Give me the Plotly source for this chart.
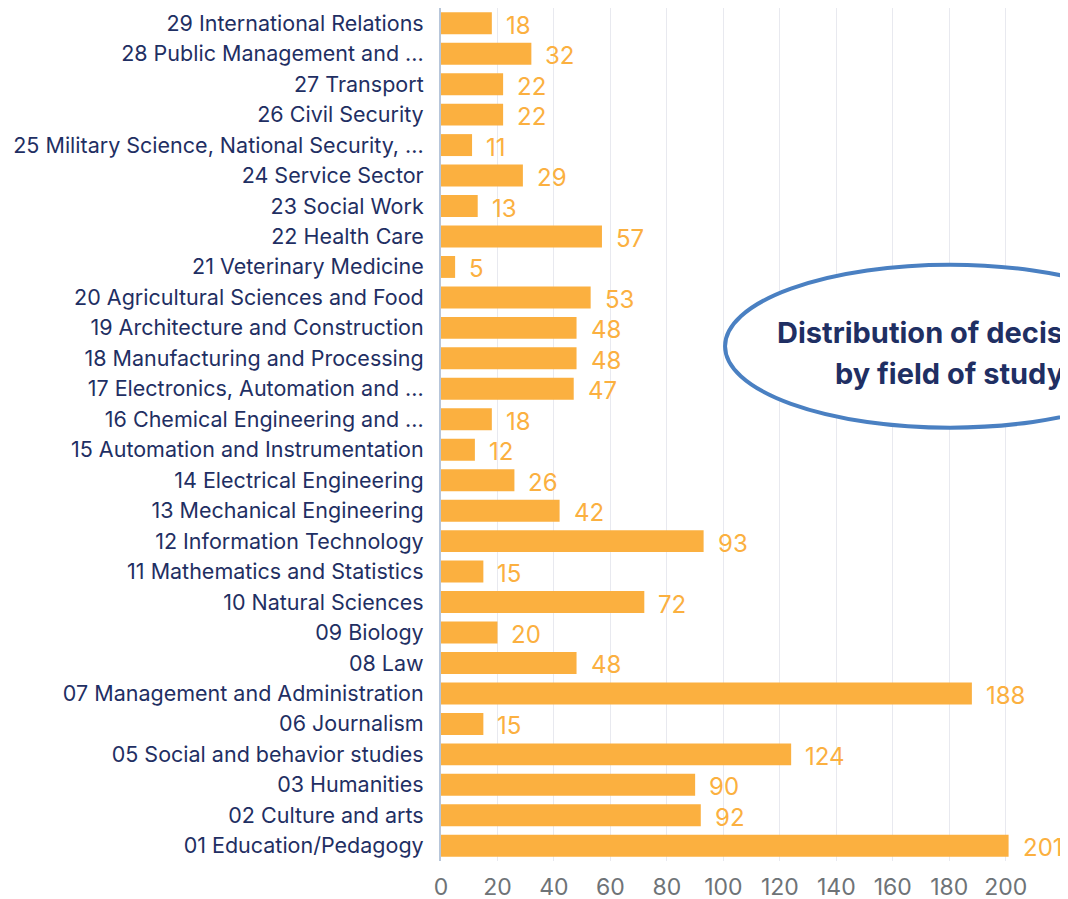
import plotly.graph_objects as go

categories = [
    "01 Education/Pedagogy", "02 Culture and arts", "03 Humanities",
    "05 Social and behavior studies", "06 Journalism",
    "07 Management and Administration", "08 Law", "09 Biology",
    "10 Natural Sciences", "11 Mathematics and Statistics",
    "12 Information Technology", "13 Mechanical Engineering",
    "14 Electrical Engineering", "15 Automation and Instrumentation",
    "16 Chemical Engineering and ...", "17 Electronics, Automation and ...",
    "18 Manufacturing and Processing", "19 Architecture and Construction",
    "20 Agricultural Sciences and Food", "21 Veterinary Medicine",
    "22 Health Care", "23 Social Work", "24 Service Sector",
    "25 Military Science, National Security, ...", "26 Civil Security",
    "27 Transport", "28 Public Management and ...", "29 International Relations",
]
values = [201, 92, 90, 124, 15, 188, 48, 20, 72, 15, 93, 42, 26, 12, 18, 47,
          48, 48, 53, 5, 57, 13, 29, 11, 22, 22, 32, 18]
x_ticks = list(range(0, 201, 20))
title_lines = ["Distribution of decisions", "by field of study"]

FONT = "Inter"
BAR = "#FBB040"
NAVY = "#1F2F63"

fig = go.Figure(go.Bar(
    x=values, y=categories, orientation="h",
    marker=dict(color=BAR, line=dict(width=0)), width=0.72,
    hoverinfo="x+y",
))

annotations = [
    dict(x=v, y=c, xref="x", yref="y", text=str(v), showarrow=False,
         xanchor="left", xshift=12, yshift=-2,
         font=dict(family=FONT, size=24, color=BAR))
    for c, v in zip(categories, values)
]
for line, ypos in zip(title_lines, [0.619, 0.571]):
    annotations.append(dict(
        x=0.858, y=ypos, xref="paper", yref="paper", text=f"<b>{line}</b>",
        showarrow=False, xanchor="center", yanchor="middle", align="center",
        font=dict(family=FONT, size=29, color=NAVY),
    ))

fig.update_layout(
    width=1068, height=899,
    margin=dict(l=433, r=42, t=0, b=46),
    plot_bgcolor="white", paper_bgcolor="white",
    showlegend=False, bargap=0.28,
    xaxis=dict(range=[0, 210], tickvals=x_ticks, showgrid=True,
               gridcolor="#E8E9EF", gridwidth=1, zeroline=False,
               tickfont=dict(family=FONT, size=23, color="#6E7377"),
               ticks="", ticklabelstandoff=10, fixedrange=True),
    yaxis=dict(categoryorder="array", categoryarray=categories,
               range=[-0.5, len(categories) - 0.5],
               tickfont=dict(family=FONT, size=21.5, color=NAVY),
               showline=True, linecolor="#B7C6DA", linewidth=2,
               ticks="", ticklen=0, ticklabelstandoff=11,
               showgrid=False, automargin=False),
    annotations=annotations,
    shapes=[dict(type="circle", xref="paper", yref="paper",
                 x0=0.479, x1=1.238, y0=0.508, y1=0.699,
                 line=dict(color="#4A80C2", width=4), fillcolor="white",
                 layer="above")],
)

fig.write_html("out.html")
